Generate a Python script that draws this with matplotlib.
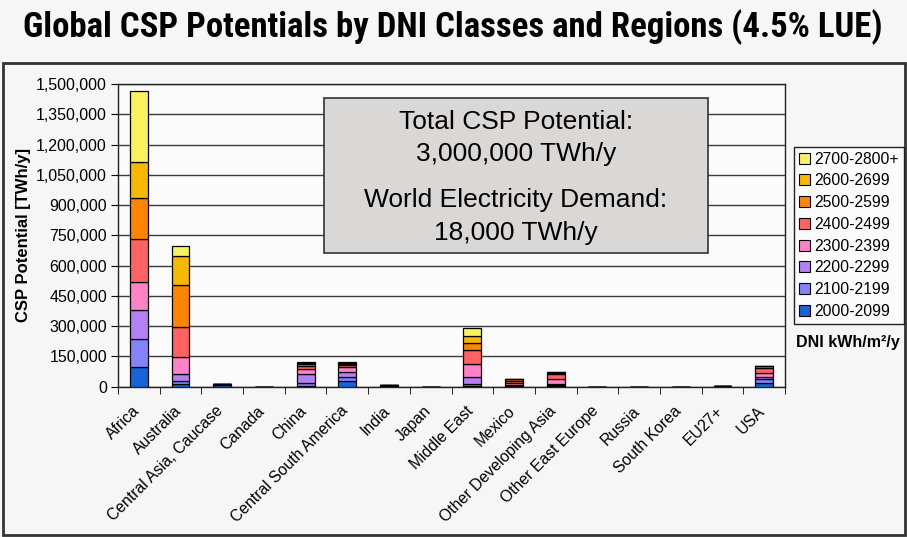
import numpy as np
import matplotlib
matplotlib.use("Agg")
import matplotlib.pyplot as plt
import matplotlib.transforms as mtransforms
from matplotlib.patches import Patch, Rectangle
from matplotlib.ticker import FuncFormatter, MultipleLocator
from matplotlib import font_manager
from matplotlib.font_manager import FontProperties

# =========================
# DATA (TWh/y)
# =========================

regions = ["Africa", "Australia", "Central Asia, Caucase", "Canada", "China",
           "Central South America", "India", "Japan", "Middle East", "Mexico",
           "Other Developing Asia", "Other East Europe", "Russia", "South Korea",
           "EU27+", "USA"]

dni_classes = ["2000-2099", "2100-2199", "2200-2299", "2300-2399",
               "2400-2499", "2500-2599", "2600-2699", "2700-2800+"]

d2000 = [99000, 13000, 10000, 0, 5000, 28000, 3000, 0, 5000, 3000, 5000, 0, 0, 0, 1000, 20000]
d2100 = [139000, 17000, 3000, 0, 15000, 21500, 2000, 0, 7000, 3000, 4000, 0, 0, 0, 500, 16500]
d2200 = [141000, 31500, 0, 0, 45000, 25000, 2000, 0, 37600, 4000, 5000, 0, 0, 0, 500, 13000]
d2300 = [142000, 84500, 0, 0, 25000, 21500, 1000, 0, 63000, 6000, 25000, 0, 0, 0, 500, 16500]
d2400 = [210000, 149000, 0, 0, 15000, 11500, 0, 0, 69500, 12000, 22000, 0, 0, 0, 500, 26500]
d2500 = [203000, 209000, 0, 0, 8000, 5000, 0, 0, 36000, 8000, 9000, 0, 0, 0, 0, 8000]
d2600 = [179000, 144000, 0, 0, 6000, 3000, 0, 0, 33000, 1000, 1500, 0, 0, 0, 0, 2000]
d2700 = [351000, 50000, 0, 0, 3000, 8000, 0, 0, 39000, 0, 0, 0, 0, 0, 0, 0]

series = [d2000, d2100, d2200, d2300, d2400, d2500, d2600, d2700]

colors = ["#1565d8", "#8484fa", "#b57ff5", "#ff82c6",
          "#ff6262", "#ff8400", "#f7b900", "#f7f25e"]

# =========================
# FONTS
# =========================

names = {f.name for f in font_manager.fontManager.ttflist}
base_font = "Liberation Sans" if "Liberation Sans" in names else "DejaVu Sans"
plt.rcParams["font.family"] = [base_font, "DejaVu Sans"]

# look for a narrow bold face for the title
title_prop = None
for pref in ["Liberation Sans Narrow", "Arial Narrow", "Roboto Condensed",
             "DejaVu Sans Condensed", "DejaVu Sans"]:
    for f in font_manager.fontManager.ttflist:
        fn = f.fname.lower()
        narrow = ("narrow" in fn or "condensed" in fn or
                  str(f.stretch) in ("condensed", "semi-condensed"))
        bold = "bold" in fn or f.weight in ("bold", 700)
        if f.name == pref and narrow and bold and "oblique" not in fn and "italic" not in fn:
            title_prop = FontProperties(fname=f.fname)
            break
    if title_prop is not None:
        break
if title_prop is None:
    title_prop = FontProperties(family=base_font, weight="bold")

# =========================
# FIGURE
# =========================

W, H = 907, 537
fig = plt.figure(figsize=(W / 100, H / 100), dpi=100, facecolor="#f6f6f6")

# outer chart frame
fig.patches.append(Rectangle((3 / W, 2 / H), 902 / W, (H - 63 - 2) / H,
                             transform=fig.transFigure, fill=False,
                             edgecolor="#333333", linewidth=2))

title = fig.text(453 / W, 1 - 27 / H,
                 "Global CSP Potentials by DNI Classes and Regions (4.5% LUE)",
                 ha="center", va="center", fontproperties=title_prop)
# fit the title width to the reference (~870 px), capped in height
title.set_fontsize(20)
renderer = fig.canvas.get_renderer()
tw = title.get_window_extent(renderer).width
title.set_fontsize(min(25, 20 * 870 / tw))

ax = fig.add_axes([118 / W, 1 - 386.7 / H, (785 - 118) / W, (386.7 - 84) / H])
ax.set_facecolor("#fbfbfb")

x = np.arange(len(regions))
bottom = np.zeros(len(regions))
for vals, col in zip(series, colors):
    vals = np.array(vals, dtype=float)
    ax.bar(x, vals, width=0.43, bottom=bottom, color=col,
           edgecolor="black", linewidth=0.9, zorder=3)
    bottom += vals

ax.set_xlim(-0.5, len(regions) - 0.5)
ax.set_ylim(0, 1500000)
ax.yaxis.set_major_locator(MultipleLocator(150000))
ax.yaxis.set_major_formatter(FuncFormatter(lambda v, p: f"{int(v):,}"))
ax.grid(axis="y", color="#3a3a3a", linewidth=1, zorder=0)
ax.set_axisbelow(True)

for s in ax.spines.values():
    s.set_color("#222222")
    s.set_linewidth(1)

ax.tick_params(axis="y", direction="out", length=5, labelsize=11.5, pad=3)
ax.set_xticks(x)
ax.set_xticklabels(regions, rotation=45, ha="right", va="top",
                   rotation_mode="anchor", fontsize=11.3)
ax.tick_params(axis="x", length=0, pad=9)
shift = mtransforms.ScaledTranslation(-7 / 100, -4 / 100, fig.dpi_scale_trans)
for lab in ax.get_xticklabels():
    lab.set_transform(lab.get_transform() + shift)
ax.set_xticks(np.arange(len(regions) + 1) - 0.5, minor=True)
ax.tick_params(axis="x", which="minor", direction="out", length=5)

ax.set_ylabel("CSP Potential [TWh/y]", fontsize=12, fontweight="bold")
ax.yaxis.set_label_coords(-0.131, 0.5)

# =========================
# TEXT BOX
# =========================

fig.patches.append(Rectangle((324 / W, 1 - 253 / H), 384 / W, 155 / H,
                             transform=fig.transFigure, facecolor="#d9d8d6",
                             edgecolor="#333333", linewidth=1.2, zorder=5))
for txt, yy in [("Total CSP Potential:", 122), ("3,000,000 TWh/y", 154),
                ("World Electricity Demand:", 200), ("18,000 TWh/y", 233)]:
    fig.text(516 / W, 1 - yy / H, txt, ha="center", va="center",
             fontsize=19, zorder=6)

# =========================
# LEGEND
# =========================

handles = [Patch(facecolor=c, edgecolor="black", linewidth=0.8, label=l)
           for c, l in zip(colors, dni_classes)][::-1]
leg = fig.legend(handles=handles, loc="upper left",
                 bbox_to_anchor=(794 / W, 1 - 147 / H), fontsize=11.3,
                 frameon=True, fancybox=False, edgecolor="#222222",
                 facecolor="#fbfbfb", framealpha=1, handlelength=0.7,
                 handleheight=0.7, handletextpad=0.3, labelspacing=0.43,
                 borderpad=0.3, borderaxespad=0)
leg.get_frame().set_linewidth(1)

fig.text(848 / W, 1 - 343 / H, "DNI kWh/m²/y", ha="center", va="center",
         fontsize=11.5, fontweight="bold")

fig.savefig("out.png", dpi=100, facecolor=fig.get_facecolor())
